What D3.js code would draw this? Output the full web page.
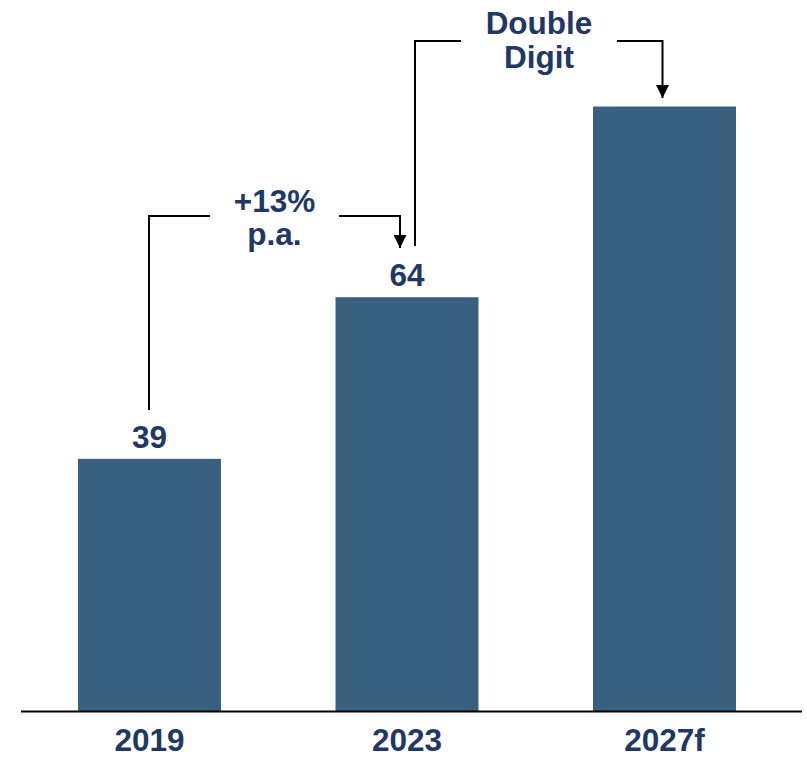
<!DOCTYPE html>
<html>
<head>
<meta charset="utf-8">
<script src="https://cdn.jsdelivr.net/npm/d3@7"></script>
<style>
  html, body { margin: 0; padding: 0; background: #ffffff; }
  svg { display: block; }
  text { font-family: "Liberation Sans", Arial, sans-serif; font-weight: bold; }
</style>
</head>
<body>
<svg id="chart" width="807" height="764"></svg>
<script>
// Market size by year (2027 is a forecast, shown without a value label)
const categories = ["2019", "2023", "2027f"];
const values = [39, 64, 93.5];
const valueLabels = ["39", "64", ""];
const growthNotes = [
  { from: "2019", to: "2023", lines: ["+13%", "p.a."] },
  { from: "2023", to: "2027f", lines: ["Double", "Digit"] }
];

const W = 807, H = 764;
const barColor = "#3a607f";
const textColor = "#1f3864";
const fontSize = 31.5;

const svg = d3.select("#chart");

const x = d3.scaleBand()
  .domain(categories)
  .range([20.75, 793.25])
  .paddingInner(0.4447)
  .paddingOuter(0.2223);

const y = d3.scaleLinear()
  .domain([0, 100])
  .range([711, 64.5]);

// Bars
svg.selectAll("rect.bar")
  .data(categories)
  .join("rect")
  .attr("class", "bar")
  .attr("x", d => x(d))
  .attr("y", (d, i) => y(values[i]))
  .attr("width", x.bandwidth())
  .attr("height", (d, i) => y(0) - y(values[i]))
  .attr("fill", barColor);

// Value labels
svg.selectAll("text.val")
  .data(categories)
  .join("text")
  .attr("class", "val")
  .attr("x", d => x(d) + x.bandwidth() / 2)
  .attr("y", (d, i) => y(values[i]) - 11)
  .attr("text-anchor", "middle")
  .attr("font-size", fontSize)
  .attr("fill", textColor)
  .text((d, i) => valueLabels[i]);

// Baseline
svg.append("line")
  .attr("x1", 21).attr("x2", 802)
  .attr("y1", y(0) + 0.5).attr("y2", y(0) + 0.5)
  .attr("stroke", "#000").attr("stroke-width", 2);

// Category axis labels
const xAxis = d3.axisBottom(x).tickSize(0).tickPadding(17);
const gx = svg.append("g").attr("transform", `translate(0,${y(0) + 1})`).call(xAxis);
gx.select(".domain").remove();
gx.selectAll("text")
  .attr("font-size", fontSize)
  .attr("font-family", "Liberation Sans, Arial, sans-serif")
  .attr("font-weight", "bold")
  .attr("fill", textColor);

// Arrowhead
svg.append("defs").append("marker")
  .attr("id", "arrow")
  .attr("viewBox", "0 0 10 10")
  .attr("refX", 10).attr("refY", 5)
  .attr("markerWidth", 7).attr("markerHeight", 6.5)
  .attr("markerUnits", "strokeWidth")
  .attr("orient", "auto")
  .append("path").attr("d", "M0,0 L10,5 L0,10 Z").attr("fill", "#000");

// Growth brackets: rise from the start bar, run over a centred note, drop onto the end bar
const brackets = [
  { x0: x("2019") + x.bandwidth() / 2 - 0.5, yStart: 410, yTop: 216, x1: x("2023") + x.bandwidth() / 2 - 7, yEnd: 248, gap: [210, 339], textY: [212, 245] },
  { x0: x("2023") + x.bandwidth() / 2 + 8, yStart: 246, yTop: 41, x1: x("2027f") + x.bandwidth() / 2 - 2, yEnd: 98, gap: [461, 617], textY: [34, 68] }
];

growthNotes.forEach((note, i) => {
  const b = brackets[i];
  svg.append("path")
    .attr("d", `M${b.x0},${b.yStart} V${b.yTop} H${b.gap[0]}`)
    .attr("fill", "none").attr("stroke", "#000").attr("stroke-width", 2);
  svg.append("path")
    .attr("d", `M${b.gap[1]},${b.yTop} H${b.x1} V${b.yEnd}`)
    .attr("fill", "none").attr("stroke", "#000").attr("stroke-width", 2)
    .attr("marker-end", "url(#arrow)");
  const cx = (b.gap[0] + b.gap[1]) / 2;
  note.lines.forEach((ln, j) => {
    svg.append("text")
      .attr("x", cx).attr("y", b.textY[j])
      .attr("text-anchor", "middle")
      .attr("font-size", fontSize)
      .attr("fill", textColor)
      .text(ln);
  });
});
</script>
</body>
</html>
